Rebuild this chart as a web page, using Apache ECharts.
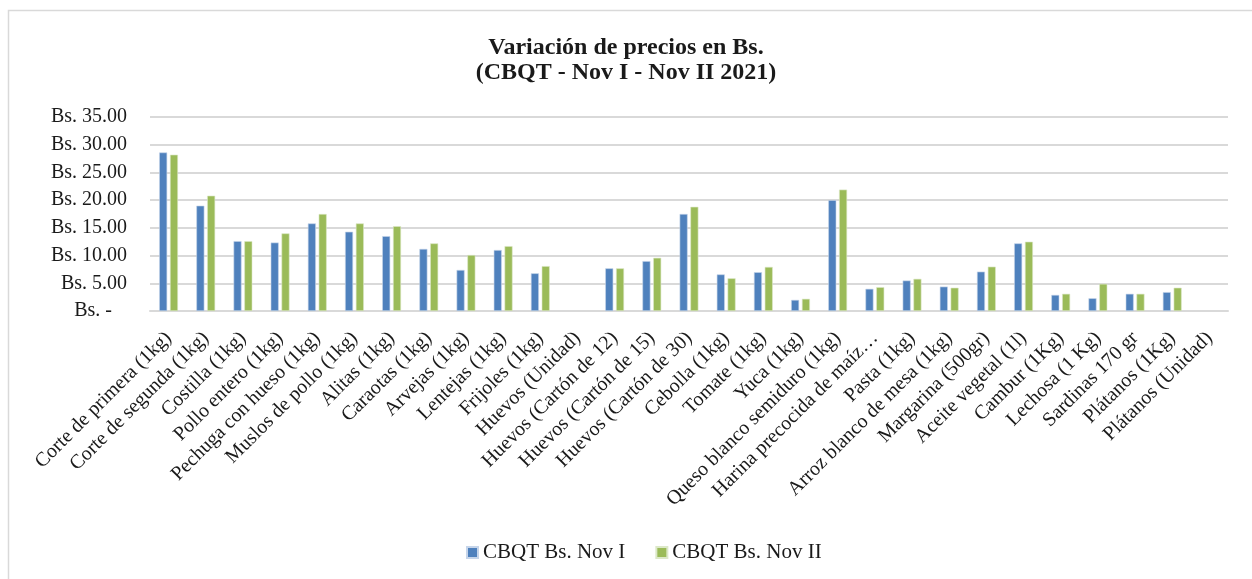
<!DOCTYPE html>
<html>
<head>
<meta charset="utf-8">
<script src="https://cdn.jsdelivr.net/npm/echarts@6/dist/echarts.min.js"></script>
<style>
  html, body { margin: 0; padding: 0; background: #fff; }
  #chart { width: 1252px; height: 579px; }
</style>
</head>
<body>
<div id="chart"></div>
<script>
// categorías (productos)
const categories = [
  'Corte de primera (1kg)', 'Corte de segunda (1kg)', 'Costilla (1kg)', 'Pollo entero (1kg)',
  'Pechuga con hueso (1kg)', 'Muslos de pollo (1kg)', 'Alitas (1kg)', 'Caraotas (1kg)',
  'Arvejas (1kg)', 'Lentejas (1kg)', 'Frijoles (1kg)', 'Huevos (Unidad)',
  'Huevos (Cartón de 12)', 'Huevos (Cartón de 15)', 'Huevos (Cartón de 30)', 'Cebolla (1kg)',
  'Tomate (1kg)', 'Yuca (1kg)', 'Queso blanco semiduro (1kg)', 'Harina precocida de maíz…',
  'Pasta (1kg)', 'Arroz blanco de mesa (1kg)', 'Margarina (500gr)', 'Aceite vegetal (1l)',
  'Cambur (1Kg)', 'Lechosa (1 Kg)', 'Sardinas 170 gr', 'Plátanos (1Kg)', 'Plátanos (Unidad)'
]

// series
const novI = [
  28.6, 19.0, 12.6, 12.35, 15.8, 14.3, 13.5, 11.2, 7.4, 11.0,
  6.8, null, 7.7, 9.0, 17.5, 6.6, 7.0, 2.0, 20.0, 4.0,
  5.5, 4.4, 7.1, 12.2, 2.9, 2.3, 3.1, 3.4, null
]
const novII = [
  28.2, 20.8, 12.6, 14.0, 17.5, 15.8, 15.3, 12.2, 10.1, 11.7,
  8.1, null, 7.7, 9.6, 18.8, 5.9, 7.95, 2.2, 21.9, 4.3,
  5.8, 4.2, 8.0, 12.5, 3.1, 4.9, 3.1, 4.2, null
]

const seriesNames = ['CBQT Bs. Nov I', 'CBQT Bs. Nov II']
const titleLines = ['Variación de precios en Bs.', '(CBQT - Nov I - Nov II 2021)']

const fontFamily = 'Liberation Serif'
const chart = echarts.init(document.getElementById('chart'))

chart.setOption({
  animation: false,
  color: ['#4F81BD', '#9BBB59'],
  textStyle: { fontFamily },
  title: {
    text: titleLines.join('\n'),
    left: 'center',
    top: 30,
    padding: [5, 0, 5, 14],
    textStyle: {
      fontFamily,
      fontSize: 24,
      fontWeight: 'bold',
      color: '#1a1a1a',
      lineHeight: 25
    }
  },
  graphic: [{
    type: 'rect',
    shape: { x: 8.5, y: 10.5, width: 1300, height: 700 },
    style: { fill: 'none', stroke: '#d9d9d9', lineWidth: 1.5 },
    silent: true
  }],
  legend: {
    bottom: 11,
    left: 461,
    itemWidth: 11,
    itemHeight: 11,
    itemGap: 30,
    icon: 'rect',
    textStyle: { fontFamily, fontSize: 21, color: '#1a1a1a', padding: [0, 0, 0, 0] },
    data: seriesNames
  },
  grid: {
    left: 150,
    right: 24,
    top: 117,
    bottom: 268,
    containLabel: false
  },
  xAxis: {
    type: 'category',
    data: categories,
    axisLine: { lineStyle: { color: '#d9d9d9', width: 2 } },
    axisTick: { show: false },
    axisLabel: {
      interval: 0,
      rotate: 45,
      margin: 24,
      fontFamily,
      fontSize: 20,
      color: '#1a1a1a'
    }
  },
  yAxis: {
    type: 'value',
    min: 0,
    max: 35,
    interval: 5,
    axisLine: { show: false },
    axisTick: { show: false },
    splitLine: { lineStyle: { color: '#d9d9d9', width: 2 } },
    axisLabel: {
      margin: 23,
      fontFamily,
      fontSize: 20,
      color: '#1a1a1a',
      formatter: v => v === 0 ? 'Bs. -   ' : 'Bs. ' + v.toFixed(2)
    }
  },
  series: [
    {
      name: seriesNames[0],
      type: 'bar',
      data: novI,
      barWidth: 8,
      barGap: '35%',
      itemStyle: { borderColor: '#c6d5ea', borderWidth: 0.6 }
    },
    {
      name: seriesNames[1],
      type: 'bar',
      data: novII,
      barWidth: 8,
      barGap: '35%',
      itemStyle: { borderColor: '#dce8c8', borderWidth: 0.6 }
    }
  ]
})
</script>
</body>
</html>
